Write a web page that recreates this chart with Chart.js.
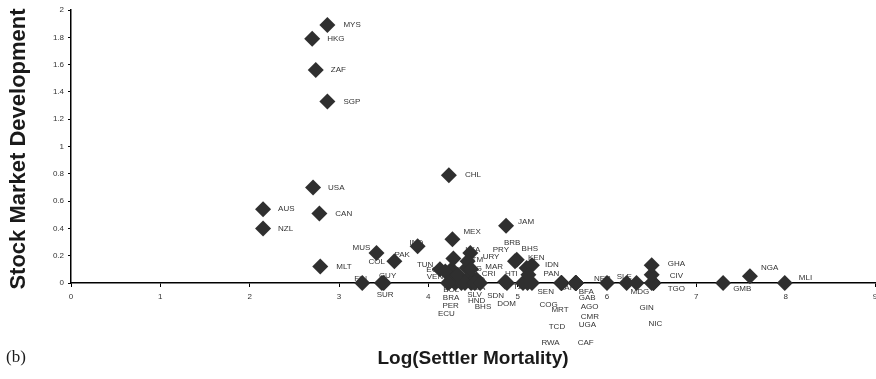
<!DOCTYPE html>
<html>
<head>
<meta charset="utf-8">
<script src="https://cdn.jsdelivr.net/npm/chart.js@4.4.1/dist/chart.umd.min.js"></script>
<style>
  html, body { margin: 0; padding: 0; background: #fff; }
  #wrap { width: 876px; height: 379px; position: relative; }
</style>
</head>
<body>
<div id="wrap"><canvas id="settlerChart"></canvas></div>
<script>
// country codes, log settler mortality (x), stock market development (y)
const countries = [
  'MYS', 'HKG', 'ZAF', 'SGP', 'CHL', 'USA', 'AUS', 'CAN', 'NZL', 'JAM',
  'MEX', 'MLT', 'IND', 'MUS', 'PAK', 'COL', 'FIN', 'GUY', 'SUR', 'TUN',
  'EGY', 'VEN', 'BOL', 'BRA', 'PER', 'ECU', 'LKA', 'GTM', 'ARG', 'CRI',
  'BGD', 'DZA', 'SLV', 'HND', 'BHS', 'SDN', 'DOM', 'URY', 'MAR', 'PRY',
  'BRB', 'BHS', 'KEN', 'HTI', 'TZA', 'IDN', 'PAN', 'SEN', 'ZAR', 'COG',
  'RWA', 'MRT', 'TCD', 'BFA', 'GAB', 'AGO', 'CMR', 'UGA', 'CAF', 'NER',
  'SLE', 'MDG', 'GIN', 'NIC', 'TGO', 'CIV', 'GHA', 'GMB', 'NGA', 'MLI'
];
const logMortality = [
  2.87, 2.70, 2.74, 2.87, 4.23, 2.71, 2.15, 2.78, 2.15, 4.87,
  4.27, 2.79, 3.88, 3.42, 3.62, 4.26, 3.26, 3.48, 3.50, 4.13,
  4.19, 4.24, 4.30, 4.33, 4.37, 4.22, 4.47, 4.28, 4.43, 4.33,
  4.54, 4.47, 4.48, 4.41, 4.52, 4.58, 4.86, 4.44, 4.48, 4.99,
  4.97, 5.10, 5.16, 4.88, 5.06, 5.16, 5.12, 5.11, 5.49, 5.49,
  5.49, 5.49, 5.65, 5.65, 5.65, 5.65, 5.65, 5.65, 5.65, 6.00,
  6.22, 6.33, 6.52, 6.52, 6.50, 6.50, 6.50, 7.30, 7.60, 7.99
];
const stockMarket = [
  1.89, 1.79, 1.56, 1.33, 0.79, 0.70, 0.54, 0.51, 0.40, 0.42,
  0.32, 0.12, 0.27, 0.22, 0.16, 0.10, 0.00, 0.00, 0.00, 0.10,
  0.085, 0.01, 0.00, 0.02, 0.00, 0.00, 0.22, 0.18, 0.11, 0.06,
  0.025, 0.05, 0.00, 0.00, 0.00, 0.00, 0.01, 0.16, 0.10, 0.17,
  0.16, 0.11, 0.13, 0.00, 0.00, 0.00, 0.06, 0.00, 0.00, 0.00,
  0.00, 0.00, 0.00, 0.00, 0.00, 0.00, 0.00, 0.00, 0.00, 0.00,
  0.00, 0.00, 0.00, 0.00, 0.00, 0.06, 0.13, 0.00, 0.05, 0.00
];
const xTicks = [0, 1, 2, 3, 4, 5, 6, 7, 8, 9];
const yTicks = [0, 0.2, 0.4, 0.6, 0.8, 1, 1.2, 1.4, 1.6, 1.8, 2];

// label placement relative to each diamond, in pixels (layout only)
const labelNudge = [
  [16, 0], [15, 0], [15, 0], [16, 0], [16, 0], [15, 0], [15, 0], [16, 0], [15, 0], [12, -4],
  [11, -8], [16, 0], [-8, -3], [-24, -5], [0, -6], [-83, -8], [-8, -4], [-3, -7], [-7, 12], [-23, -5],
  [-19, -2], [-23, -5], [-12, 7], [-15, 18], [-19, 23], [-10, 31], [-5, -3], [12, 1], [-2, 1], [24, -1],
  [-9, 0], [-1, 12], [-4, 12], [3, 18], [0, 24], [7, 13], [-8, 22], [15, -4], [14, -3], [-24, -10],
  [-11, -18], [-5, -19], [-4, -7], [-2, -9], [-10, 4], [13, -18], [15, -1], [10, 9], [-2, 5], [-22, 22],
  [-20, 60], [-10, 27], [-27, 44], [3, 9], [3, 15], [5, 24], [5, 34], [3, 42], [2, 60], [-13, -4],
  [-10, -6], [-6, 9], [-14, 25], [-5, 41], [16, 6], [18, 1], [16, -1], [10, 6], [11, -8], [14, -5]
];

const textColor = '#333333';
const markColor = '#2f2f2f';
const sansFamily = '"Liberation Sans", Arial, Helvetica, sans-serif';

const pointLabels = {
  id: 'pointLabels',
  beforeDatasetsDraw(chart) {
    const ctx = chart.ctx;
    const meta = chart.getDatasetMeta(0);
    ctx.save();
    ctx.font = '8px ' + sansFamily;
    ctx.fillStyle = textColor;
    ctx.textAlign = 'left';
    ctx.textBaseline = 'middle';
    meta.data.forEach(function(pt, i) {
      const n = labelNudge[i] || [15, 0];
      ctx.fillText(countries[i], pt.x + n[0], pt.y + n[1]);
    });
    ctx.restore();
  }
};

const axisTitles = {
  id: 'axisTitles',
  afterDraw(chart) {
    const ctx = chart.ctx;
    const area = chart.chartArea;
    ctx.save();
    ctx.fillStyle = '#1a1a1a';
    ctx.font = 'bold 19px ' + sansFamily;
    ctx.textAlign = 'center';
    ctx.textBaseline = 'alphabetic';
    ctx.fillText('Log(Settler Mortality)', (area.left + area.right) / 2, 364);

    ctx.translate(25, 149);
    ctx.rotate(-Math.PI / 2);
    ctx.font = 'bold 22px ' + sansFamily;
    ctx.fillText('Stock Market Development', 0, 0);
    ctx.restore();

    ctx.save();
    ctx.fillStyle = '#1a1a1a';
    ctx.font = '17px "Liberation Serif", "Times New Roman", serif';
    ctx.textAlign = 'left';
    ctx.textBaseline = 'alphabetic';
    ctx.fillText('(b)', 6, 362);
    ctx.restore();
  }
};

const ctx = document.getElementById('settlerChart');
new Chart(ctx, {
  type: 'scatter',
  data: {
    labels: countries,
    datasets: [{
      data: logMortality.map(function(x, i) { return { x: x, y: stockMarket[i] }; }),
      pointStyle: 'rectRot',
      pointRadius: 8,
      pointBackgroundColor: markColor,
      pointBorderWidth: 0,
      clip: false
    }]
  },
  options: {
    responsive: true,
    maintainAspectRatio: false,
    animation: false,
    events: [],
    layout: { autoPadding: false, padding: { top: 10, right: 1, left: 0, bottom: 0 } },
    plugins: {
      legend: { display: false },
      tooltip: { enabled: false }
    },
    scales: {
      x: {
        type: 'linear',
        min: 0,
        max: 9,
        afterBuildTicks: function(s) { s.ticks = xTicks.map(function(v) { return { value: v }; }); },
        afterFit: function(s) { s.height = 96; s.paddingRight = 0; s.paddingLeft = 0; },
        ticks: {
          color: textColor,
          padding: 5,
          maxRotation: 0,
          autoSkip: false,
          font: { family: sansFamily, size: 8 },
          callback: function(v) { return String(v); }
        },
        grid: { drawOnChartArea: false, color: '#000', tickLength: 4 },
        border: { color: '#000', width: 1.5 }
      },
      y: {
        type: 'linear',
        min: 0,
        max: 2,
        afterBuildTicks: function(s) { s.ticks = yTicks.map(function(v) { return { value: v }; }); },
        afterFit: function(s) { s.width = 71; },
        ticks: {
          color: textColor,
          padding: 4,
          autoSkip: false,
          font: { family: sansFamily, size: 8 },
          callback: function(v) { return String(Math.round(v * 10) / 10); }
        },
        grid: { drawOnChartArea: false, color: '#000', tickLength: 3 },
        border: { color: '#000', width: 1.5 }
      }
    }
  },
  plugins: [pointLabels, axisTitles]
});
</script>
</body>
</html>
